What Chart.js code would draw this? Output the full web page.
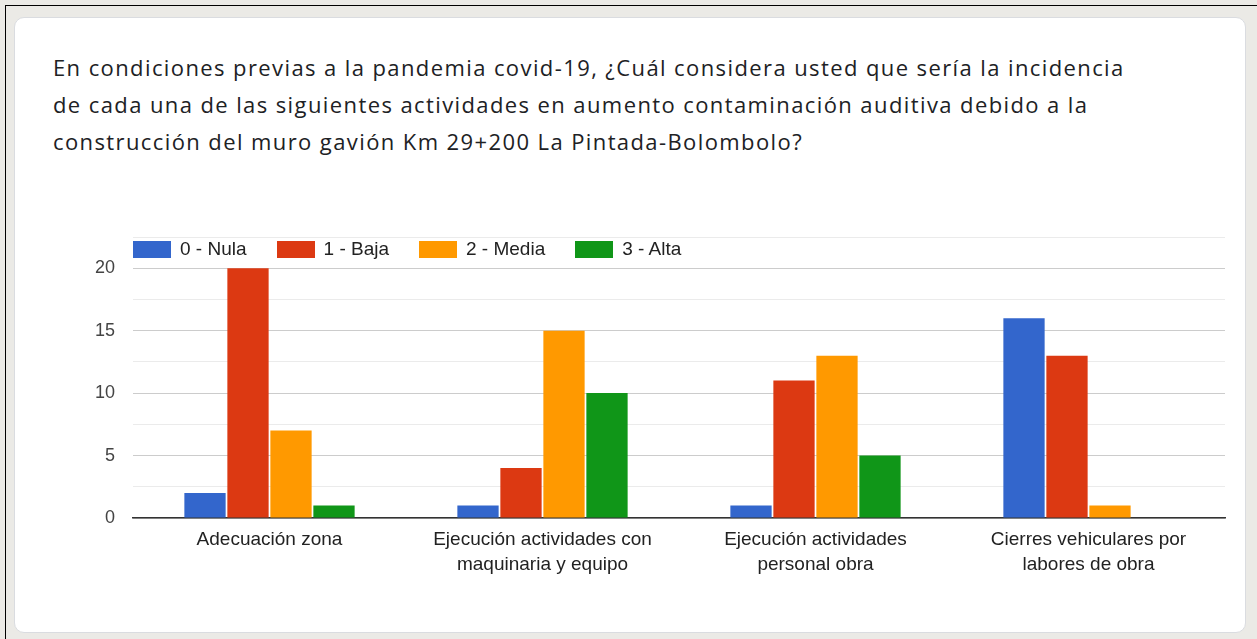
<!DOCTYPE html>
<html>
<head>
<meta charset="utf-8">
<script src="https://cdn.jsdelivr.net/npm/chart.js@4/dist/chart.umd.min.js"></script>
<style>
  html, body { margin: 0; padding: 0; }
  body { width: 1257px; height: 639px; background: #ebeae6; position: relative; overflow: hidden; }
  #frame { position: absolute; left: 5px; top: 5px; width: 1260px; height: 640px; border-left: 1px solid #000; border-top: 1px solid #000; }
  #card { position: absolute; left: 14px; top: 17px; width: 1230px; height: 614px; background: #fff; border: 1px solid #dadce0; border-radius: 10px; }
  #title { position: absolute; left: 53px; top: 49px; font-family: "Open Sans", sans-serif; font-size: 22px; letter-spacing: 1.4px; line-height: 37px; color: #202124; white-space: nowrap; }
  #wrap { position: absolute; left: 14px; top: 200px; width: 1230px; height: 420px; }
  #legend { position: absolute; left: 133px; top: 238px; font-family: "Liberation Sans", Arial, sans-serif; font-size: 19px; color: #222; display: flex; }
  #legend span.item { display: flex; align-items: center; margin-right: 30px; }
  #legend span.sw { display: inline-block; width: 38px; height: 17px; margin-right: 9px; }
</style>
</head>
<body>
<div id="frame"></div>
<div id="card"></div>
<div id="title">En condiciones previas a la pandemia covid-19, ¿Cuál considera usted que sería la incidencia<br>de cada una de las siguientes actividades en aumento contaminación auditiva debido a la<br>construcción del muro gavión Km 29+200 La Pintada-Bolombolo?</div>
<div id="wrap"><canvas id="myChart"></canvas></div>
<div id="legend"></div>
<script>
const categories = [
  "Adecuación zona",
  ["Ejecución actividades con", "maquinaria y equipo"],
  ["Ejecución actividades", "personal obra"],
  ["Cierres vehiculares por", "labores de obra"],
];
const seriesNames = ["0 - Nula", "1 - Baja", "2 - Media", "3 - Alta"];
const nula = [2, 1, 1, 16];
const baja = [20, 4, 11, 13];
const media = [7, 15, 13, 1];
const alta = [1, 10, 5, 0];
const colors = ["#3366cc", "#dc3912", "#ff9900", "#109618"];
const yTicks = [0, 5, 10, 15, 20];

const seriesValues = [nula, baja, media, alta];

const legend = document.getElementById("legend");
seriesNames.forEach((name, i) => {
  const item = document.createElement("span");
  item.className = "item";
  item.innerHTML = '<span class="sw" style="background:' + colors[i] + '"></span>' + name;
  legend.appendChild(item);
});

const ctx = document.getElementById("myChart");

new Chart(ctx, {
  type: "bar",
  data: {
    labels: categories,
    datasets: seriesValues.map((vals, i) => ({
      label: seriesNames[i],
      data: vals,
      backgroundColor: colors[i],
      borderWidth: 0,
      barPercentage: 0.96,
      categoryPercentage: 0.63,
    })),
  },
  options: {
    responsive: true,
    maintainAspectRatio: false,
    animation: false,
    layout: { padding: { left: 0, right: 19, top: 37, bottom: 0 } },
    scales: {
      y: {
        min: 0,
        max: 22.5,
        afterFit: (scale) => { scale.width = 119; },
        border: { display: false },
        grid: {
          drawTicks: false,
          color: (c) => (c.tick && yTicks.includes(c.tick.value) ? "#cccccc" : "#ebebeb"),
        },
        ticks: {
          stepSize: 2.5,
          padding: 18,
          color: "#444",
          font: { family: "'Liberation Sans', Arial, sans-serif", size: 18 },
          callback: (v) => (yTicks.includes(v) ? v : ""),
        },
      },
      x: {
        afterFit: (scale) => { scale.height = 102; },
        border: { display: true, color: "#333", width: 1.5 },
        grid: { display: false },
        ticks: {
          padding: 1,
          color: "#222",
          maxRotation: 0,
          font: { family: "'Liberation Sans', Arial, sans-serif", size: 19, lineHeight: 1.32 },
        },
      },
    },
    plugins: {
      legend: { display: false },
      tooltip: { enabled: false },
    },
  },
});
</script>
</body>
</html>
